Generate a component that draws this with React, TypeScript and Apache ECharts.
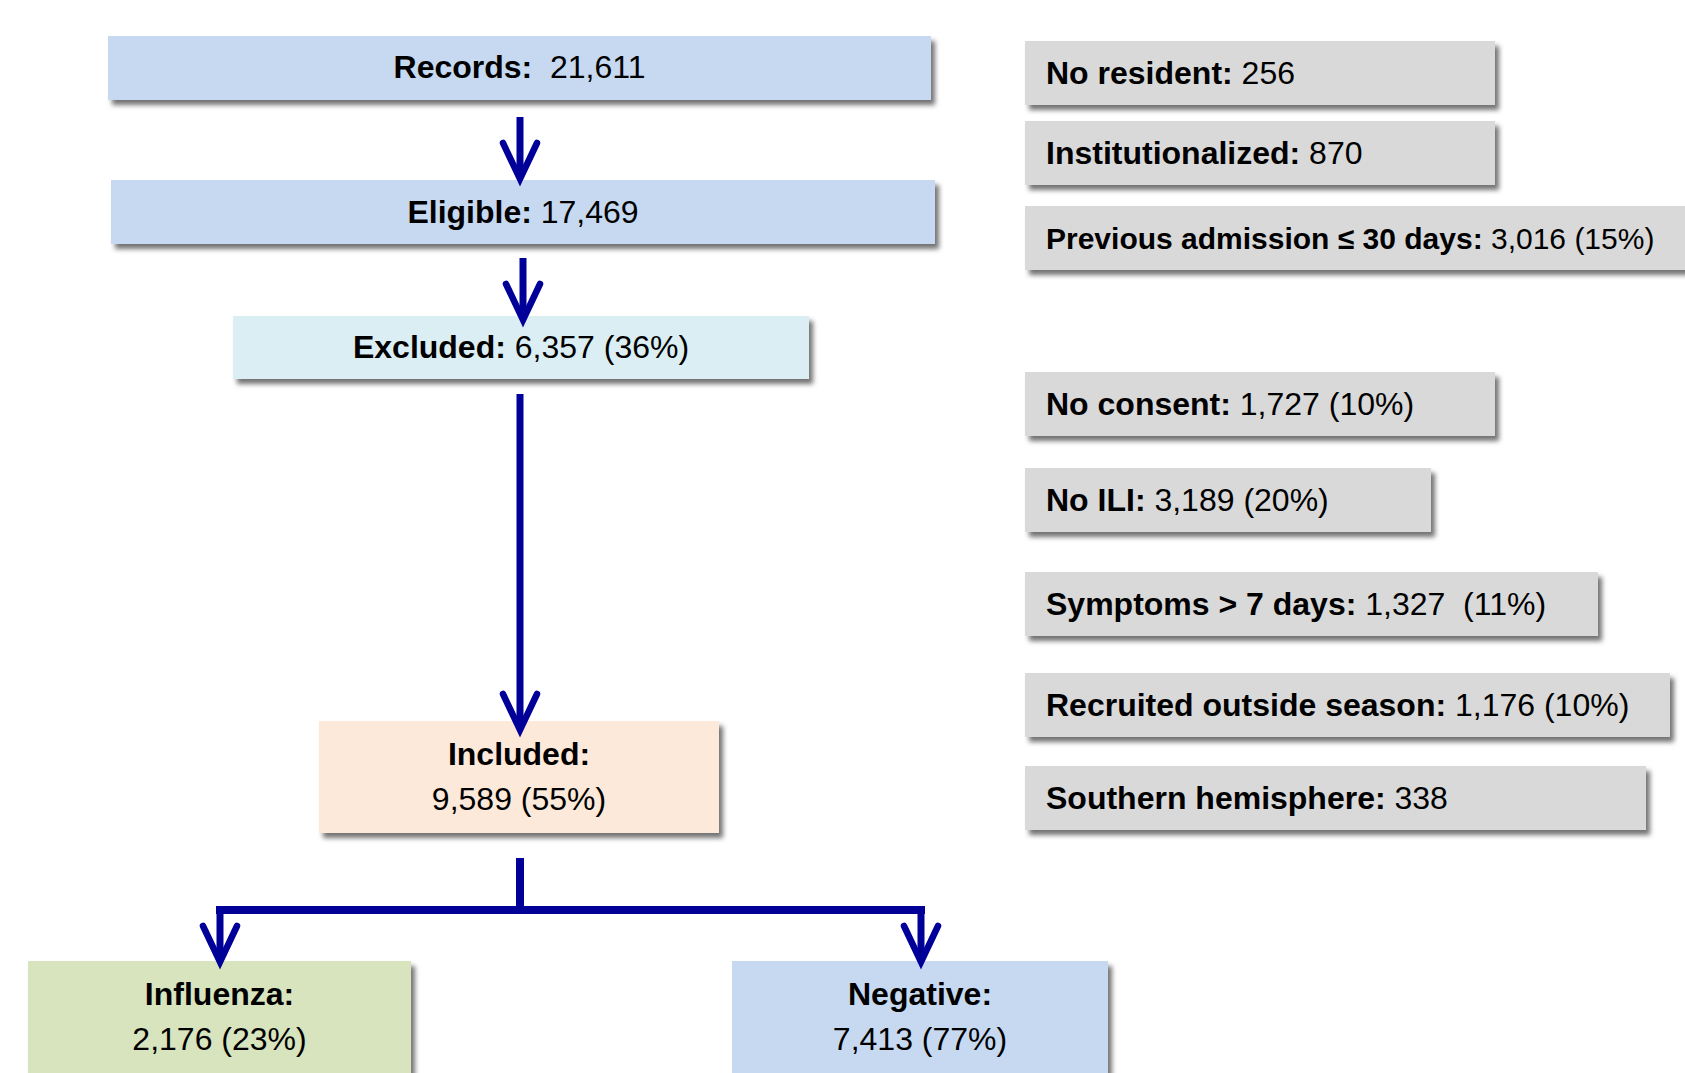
import React, { useEffect, useRef } from "react";
import * as echarts from "echarts";

// ---- data ----
const mainLabels = ["Records", "Eligible", "Excluded", "Included", "Influenza", "Negative"];
const mainCounts = ["21,611", "17,469", "6,357", "9,589", "2,176", "7,413"];
const mainPcts = ["", "", "36%", "55%", "23%", "77%"];

const exclLabels = [
  "No resident",
  "Institutionalized",
  "Previous admission \u2264 30 days",
  "No consent",
  "No ILI",
  "Symptoms > 7 days",
  "Recruited outside season",
  "Southern hemisphere",
];
const exclCounts = ["256", "870", "3,016", "1,727", "3,189", "1,327", "1,176", "338"];
const exclPcts = ["", "", "15%", "10%", "20%", "11%", "10%", ""];

// ---- layout (positions / styles) ----
const mainBoxes = [
  { x: 108, y: 36, w: 823, h: 64, fill: "#C6D9F1", twoLine: false, gap: "  ", cy: 67, lh: 0 },
  { x: 111, y: 180, w: 824, h: 64, fill: "#C6D9F1", twoLine: false, gap: " ", cy: 212, lh: 0 },
  { x: 233, y: 316, w: 576, h: 63, fill: "#DBEEF3", twoLine: false, gap: " ", cy: 347, lh: 0 },
  { x: 319, y: 721, w: 400, h: 112, fill: "#FDE9D9", twoLine: true, gap: "", cy: 776, lh: 45 },
  { x: 28, y: 961, w: 383, h: 140, fill: "#D7E4BD", twoLine: true, gap: "", cy: 1016, lh: 45 },
  { x: 732, y: 961, w: 376, h: 140, fill: "#C6D9F1", twoLine: true, gap: "", cy: 1016, lh: 45 },
];
const exclBoxes = [
  { y: 41, right: 1495 },
  { y: 121, right: 1495 },
  { y: 206, right: 1720 },
  { y: 372, right: 1495 },
  { y: 468, right: 1431 },
  { y: 572, right: 1598 },
  { y: 673, right: 1670 },
  { y: 766, right: 1646 },
];
const exclLeft = 1025;
const exclH = 64;

const ARROW = "#000099";
const FONT = "'Liberation Sans', Arial, sans-serif";
const FS = 32;

const shadow = {
  shadowBlur: 5,
  shadowOffsetX: 4,
  shadowOffsetY: 5,
  shadowColor: "rgba(0,0,0,0.55)",
};

function rich(fs: number) {
  return {
    b: { fontFamily: FONT, fontSize: fs, fontWeight: "bold", fill: "#000" },
    r: { fontFamily: FONT, fontSize: fs, fontWeight: "normal", fill: "#000" },
  };
}

function arrowHead(x: number, tipY: number): any {
  return {
    type: "polyline",
    shape: { points: [[x - 17, tipY - 36], [x, tipY], [x + 17, tipY - 36]] },
    style: { stroke: ARROW, lineWidth: 6.5, fill: null, lineJoin: "miter", lineCap: "round", miterLimit: 20 },
    z: 10,
  };
}
function vline(x: number, y1: number, y2: number, w = 7): any {
  return {
    type: "line",
    shape: { x1: x, y1, x2: x, y2 },
    style: { stroke: ARROW, lineWidth: w, lineCap: "butt" },
    z: 10,
  };
}

function buildGraphic(): any[] {
  const els: any[] = [];
  // main boxes
  mainBoxes.forEach((b, i) => {
    els.push({
      type: "rect",
      shape: { x: b.x, y: b.y, width: b.w, height: b.h },
      style: { fill: b.fill, ...shadow },
      z: 5,
    });
    const num = mainCounts[i] + (mainPcts[i] ? " (" + mainPcts[i] + ")" : "");
    const txt = b.twoLine
      ? `{b|${mainLabels[i]}:}\n{r|${num}}`
      : `{b|${mainLabels[i]}:}{r|${b.gap}${num}}`;
    els.push({
      type: "text",
      x: b.x + b.w / 2,
      y: b.cy,
      style: {
        text: txt,
        rich: rich(FS),
        align: "center",
        verticalAlign: "middle",
        lineHeight: b.twoLine ? b.lh : 40,
      },
      z: 20,
    });
  });
  // exclusion boxes
  exclBoxes.forEach((b, i) => {
    els.push({
      type: "rect",
      shape: { x: exclLeft, y: b.y, width: b.right - exclLeft, height: exclH },
      style: { fill: "#D9D9D9", ...shadow },
      z: 5,
    });
    const gap = i === 5 ? "  " : " ";
    const num = exclCounts[i] + (exclPcts[i] ? gap + "(" + exclPcts[i] + ")" : "");
    els.push({
      type: "text",
      x: exclLeft + 21,
      y: b.y + exclH / 2,
      style: {
        text: `{b|${exclLabels[i]}:}{r| ${num}}`,
        rich: rich(i === 2 ? 30 : FS),
        align: "left",
        verticalAlign: "middle",
      },
      z: 20,
    });
  });
  // arrows
  els.push(vline(520, 117, 175), arrowHead(520, 179));
  els.push(vline(523, 258, 316), arrowHead(523, 320));
  els.push(vline(520, 394, 726), arrowHead(520, 730));
  // fork
  els.push(vline(520, 858, 913, 8));
  els.push({
    type: "polyline",
    shape: { points: [[216, 910], [925, 910]] },
    style: { stroke: ARROW, lineWidth: 8, fill: null },
    z: 10,
  });
  els.push(vline(220, 906, 958), arrowHead(220, 962));
  els.push(vline(921, 906, 958), arrowHead(921, 962));
  return els;
}

export default function App() {
  const ref = useRef<HTMLDivElement>(null);
  useEffect(() => {
    if (!ref.current) return;
    const chart = echarts.init(ref.current, undefined, { renderer: "svg" });
    chart.setOption({
      animation: false,
      backgroundColor: "#ffffff",
      graphic: { elements: buildGraphic() },
    });
    return () => chart.dispose();
  }, []);
  return (
    <div
      ref={ref}
      style={{ position: "fixed", left: 0, top: 0, width: 1685, height: 1073, overflow: "hidden" }}
    />
  );
}
